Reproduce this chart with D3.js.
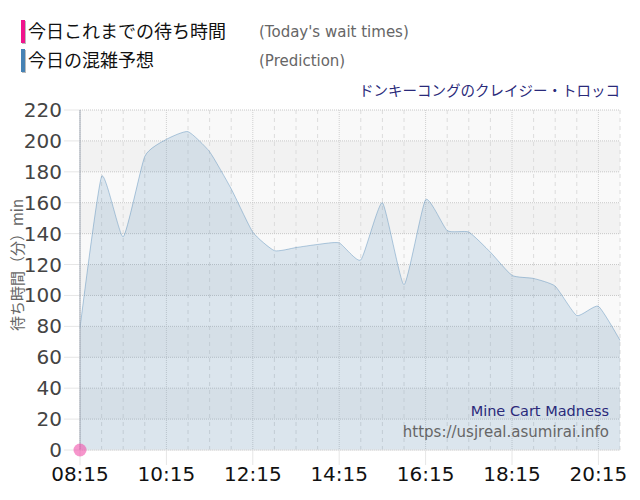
<!DOCTYPE html>
<html><head><meta charset="utf-8">
<script src="https://cdn.jsdelivr.net/npm/d3@7"></script>
<style>body{margin:0;background:#fff;} svg{display:block;font-family:"DejaVu Sans",Verdana,sans-serif;}</style>
</head><body><svg id="c" width="640" height="500"></svg>
<script>
const times = ["08:15","08:45","09:15","09:45","10:15","10:45","11:15","11:45","12:15","12:45","13:15","13:45","14:15","14:45","15:15","15:45","16:15","16:45","17:15","17:45","18:15","18:45","19:15","19:45","20:15","20:45"];
const prediction = [79,177,138,190,201,206,193,169,141,129,131,133,134,123,160,107,162,142,141,128,113,111,106,87,93,71];
const todayTimes = ["08:15"];
const todayValues = [0];
const xTickLabels = ["08:15","10:15","12:15","14:15","16:15","18:15","20:15"];
const yTicks = [0,20,40,60,80,100,120,140,160,180,200,220];

const toMin = s => { const [h,m] = s.split(":").map(Number); return h*60+m; };
const svg = d3.select("#c");
const L = 80, R = 620, T = 110, B = 450;
const x = d3.scaleLinear().domain([toMin("08:15"), toMin("20:45")]).range([L, R]);
const y = d3.scaleLinear().domain([0, 220]).range([B, T]);

// bands
for (let i = 0; i < yTicks.length - 1; i++) {
  svg.append("rect").attr("x", L).attr("width", R - L)
    .attr("y", y(yTicks[i+1])).attr("height", y(yTicks[i]) - y(yTicks[i+1]))
    .attr("fill", (yTicks.length - 2 - i) % 2 === 0 ? "#f9f9f9" : "#f2f2f2");
}
// minor vertical grid every 30 min
const minorTicks = d3.range(toMin("08:15"), toMin("20:45") + 1, 30);
svg.append("g").selectAll("line").data(minorTicks.filter(m => (m - toMin("08:15")) % 120 !== 0)).join("line")
  .attr("x1", d => x(d)).attr("x2", d => x(d)).attr("y1", T).attr("y2", B)
  .attr("stroke", "#dcdcdc").attr("stroke-dasharray", "4,4");
// major vertical grid
svg.append("g").selectAll("line").data(xTickLabels.map(toMin)).join("line")
  .attr("x1", d => x(d)).attr("x2", d => x(d)).attr("y1", T).attr("y2", B)
  .attr("stroke", "#d0d0d0").attr("stroke-dasharray", "1,1");
svg.append("g").selectAll("line").data(xTickLabels.map(toMin)).join("line")
  .attr("x1", d => x(d)).attr("x2", d => x(d)).attr("y1", B).attr("y2", B + 15)
  .attr("stroke", "#e6e6e6");
// horizontal grid
svg.append("g").selectAll("line").data(yTicks).join("line")
  .attr("x1", L - 16).attr("x2", L).attr("y1", d => y(d)).attr("y2", d => y(d))
  .attr("stroke", "#e6e6e6");
svg.append("g").selectAll("line").data(yTicks).join("line")
  .attr("x1", L).attr("x2", R).attr("y1", d => y(d)).attr("y2", d => y(d))
  .attr("stroke", "#c8c8c8").attr("stroke-dasharray", "1,1");

// area
const pts = times.map((t, i) => [toMin(t), prediction[i]]);
const curve = d3.curveCardinal.tension(0.5);
const area = d3.area().x(d => x(d[0])).y0(B).y1(d => y(d[1])).curve(curve);
const line = d3.line().x(d => x(d[0])).y(d => y(d[1])).curve(curve);
svg.append("path").attr("d", area(pts)).attr("fill", "rgba(70,130,180,0.17)");
svg.append("path").attr("d", line(pts)).attr("fill", "none").attr("stroke", "rgba(70,130,180,0.4)").attr("stroke-width", 1);

// axis lines
svg.append("line").attr("x1", L).attr("x2", L).attr("y1", T).attr("y2", B).attr("stroke", "#a0a8b4");
svg.append("line").attr("x1", L).attr("x2", R).attr("y1", B).attr("y2", B).attr("stroke", "#e6e6e6");

// y labels
svg.append("g").selectAll("text").data(yTicks).join("text")
  .attr("x", 62).attr("y", d => y(d) + 7).attr("text-anchor", "end")
  .attr("font-size", 20).attr("fill", "#444").text(d => d);
// x labels
svg.append("g").selectAll("text").data(xTickLabels).join("text")
  .attr("x", d => x(toMin(d))).attr("y", 481).attr("text-anchor", "middle")
  .attr("font-size", 20).attr("fill", "#111").text(d => d);

// y title
svg.append("text").attr("transform", "translate(23,265) rotate(-90)").attr("text-anchor", "middle")
  .attr("font-size", 15).attr("fill", "#666").attr("font-family", "'Noto Sans CJK JP','DejaVu Sans',sans-serif")
  .text("待ち時間（分）min");

// today points
svg.append("g").selectAll("circle").data(todayTimes.map((t, i) => [toMin(t), todayValues[i]])).join("circle")
  .attr("cx", d => x(d[0])).attr("cy", d => y(d[1])).attr("r", 6.5).attr("fill", "rgba(240,80,170,0.6)");

// legend
const leg = [["今日これまでの待ち時間", "(Today's wait times)", "#f0148c", 20, 38],
             ["今日の混雑予想", "(Prediction)", "#4682b4", 49, 67]];
leg.forEach(([jp, en, col, yy, base]) => {
  svg.append("rect").attr("x", 22).attr("y", yy + 1).attr("width", 4).attr("height", 23).attr("fill", "#bbb");
  svg.append("rect").attr("x", 21).attr("y", yy).attr("width", 4).attr("height", 23).attr("fill", col);
  svg.append("text").attr("x", 28).attr("y", base).attr("font-size", 18).attr("fill", "#111")
    .attr("font-family", "'Noto Sans CJK JP',sans-serif").text(jp);
  svg.append("text").attr("x", 259).attr("y", base - 1).attr("font-size", 15).attr("fill", "#666").text(en);
});

// title
svg.append("text").attr("x", 620).attr("y", 96).attr("text-anchor", "end").attr("font-size", 14.5)
  .attr("fill", "#2a2a7a").attr("font-family", "'Noto Sans CJK JP',sans-serif").text("ドンキーコングのクレイジー・トロッコ");
svg.append("text").attr("x", 609).attr("y", 416).attr("text-anchor", "end").attr("font-size", 14.5)
  .attr("fill", "#2a2a7a").text("Mine Cart Madness");
svg.append("text").attr("x", 609).attr("y", 437).attr("text-anchor", "end").attr("font-size", 15)
  .attr("fill", "#666").text("https://usjreal.asumirai.info");
</script></body></html>
